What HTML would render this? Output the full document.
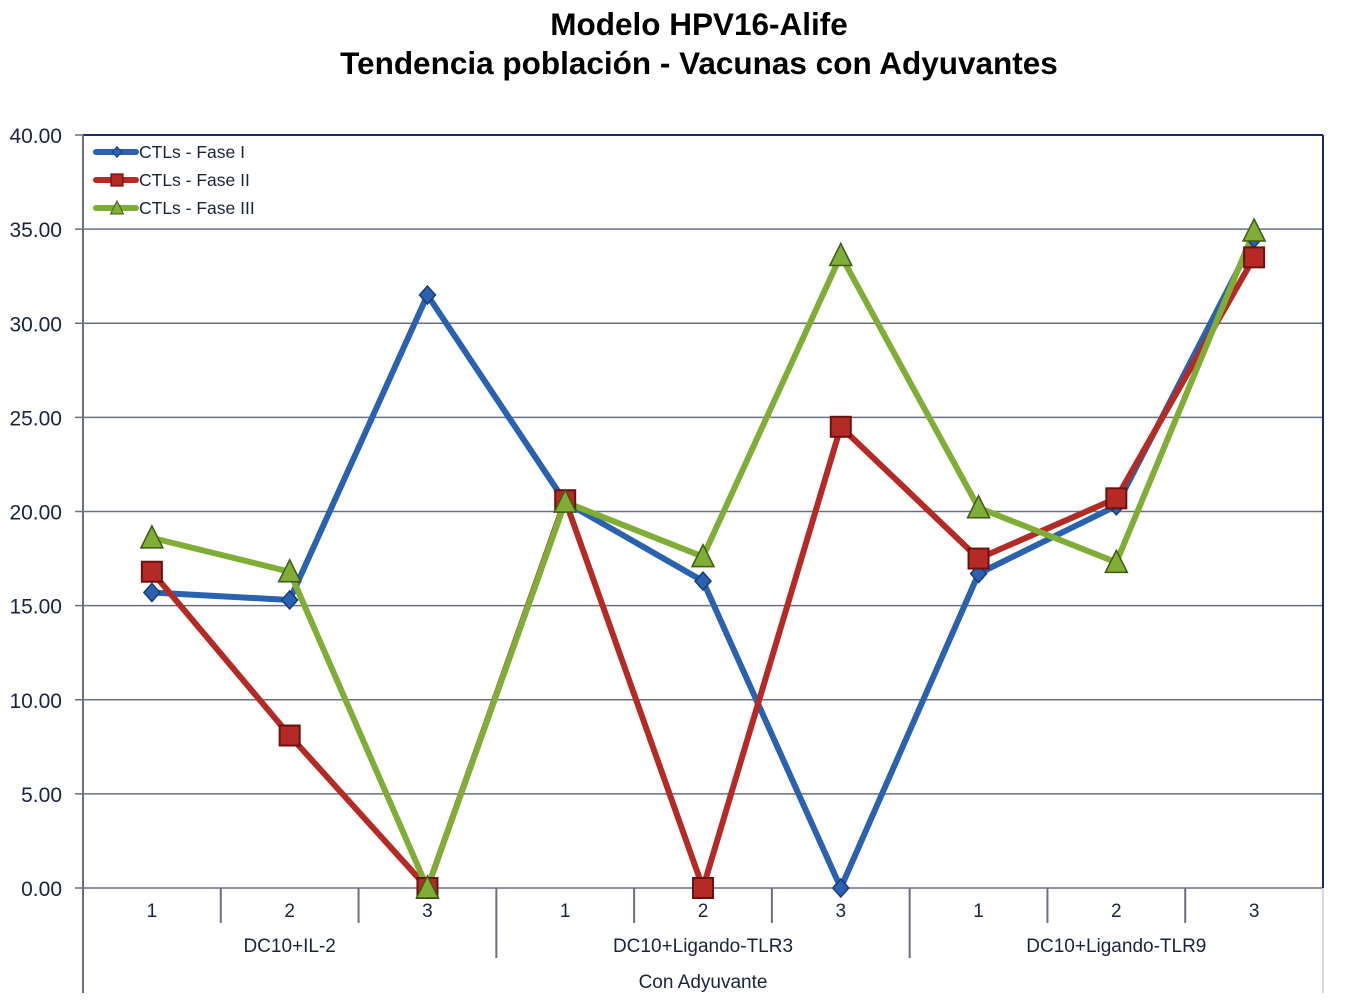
<!DOCTYPE html>
<html><head><meta charset="utf-8"><style>
body{margin:0;background:#fff;}
svg{display:block;font-family:"Liberation Sans",Arial,sans-serif;}
</style></head><body>
<svg id="chart" width="1347" height="1007">
<text x="699" y="35" text-anchor="middle" font-size="31.5" font-weight="bold" fill="#000">Modelo HPV16-Alife</text>
<text x="699" y="74" text-anchor="middle" font-size="31.5" font-weight="bold" fill="#000">Tendencia población - Vacunas con Adyuvantes</text>
<g id="grid"></g><g id="axes"></g><g id="series"></g><g id="legend"></g>
</svg>
<script>
const categories=["1","2","3","1","2","3","1","2","3"];
const groups=["DC10+IL-2","DC10+Ligando-TLR3","DC10+Ligando-TLR9"];
const yTicks=[0,5,10,15,20,25,30,35,40];
const fase1=[15.7,15.3,31.5,20.5,16.3,0,16.7,20.3,34.5];
const fase2=[16.8,8.1,0,20.6,0,24.5,17.5,20.7,33.5];
const fase3=[18.6,16.8,0,20.5,17.6,33.6,20.2,17.3,34.9];
const seriesNames=["CTLs - Fase I","CTLs - Fase II","CTLs - Fase III"];

const NS="http://www.w3.org/2000/svg";
const PL=83,PR=1323,PT=135,PB=888;
const yS=v=>PB-(v/40)*(PB-PT);
const step=(PR-PL)/categories.length;
const xS=i=>PL+step*(i+0.5);
function mk(tag,attrs,parent){const e=document.createElementNS(NS,tag);for(const k in attrs)e.setAttribute(k,attrs[k]);parent.appendChild(e);return e;}
const gridG=document.getElementById('grid'),axesG=document.getElementById('axes'),serG=document.getElementById('series'),legG=document.getElementById('legend');
yTicks.forEach(t=>{
 const ln=mk('line',{x1:PL-8,x2:PR,y1:yS(t),y2:yS(t),stroke:'#6a7080','stroke-width':1.5},gridG);
 
 
 const tx=mk('text',{x:62,y:yS(t)+8,'text-anchor':'end','font-size':21,fill:'#1a2340'},axesG);
 tx.textContent=t.toFixed(2);
 
 
});
const topLine=mk('line',{x1:PL,x2:PR,y1:PT,y2:PT,stroke:'#1a2a6a','stroke-width':2},axesG);
mk('line',{x1:PR,x2:PR,y1:PT,y2:PB,stroke:'#1a2a6a','stroke-width':2},axesG);
mk('line',{x1:PL,x2:PL,y1:PT,y2:993,stroke:'#6a7080','stroke-width':2},axesG);
mk('line',{x1:PR,x2:PR,y1:PB,y2:993,stroke:'#d8d8d8','stroke-width':2},axesG);
categories.forEach((c,i)=>{
 const tx=mk('text',{x:xS(i),y:917,'text-anchor':'middle','font-size':19,fill:'#1a2340'},axesG);
 tx.textContent=c;
 
 
 if(i>0){const bx=PL+step*i;const long=i%3===0;mk('line',{x1:bx,x2:bx,y1:PB,y2:long?958:923,stroke:'#6a7080','stroke-width':2},axesG);}
});
groups.forEach((g,j)=>{
 const tx=mk('text',{x:PL+step*(3*j+1.5),y:952,'text-anchor':'middle','font-size':19,fill:'#1a2340'},axesG);
 tx.textContent=g;
 
 
});
const ot=mk('text',{x:(PL+PR)/2,y:988,'text-anchor':'middle','font-size':19,fill:'#1a2340'},axesG);
ot.textContent="Con Adyuvante";



const colors=["#2a62b0","#b52a25","#80ad35"];
const dark=["#173d78","#6b1210","#3e5a14"];
function marker(k,cx,cy,p){
 if(k===0) return mk('polygon',{points:`${cx},${cy-9} ${cx+8},${cy} ${cx},${cy+9} ${cx-8},${cy}`,fill:colors[0],stroke:dark[0],'stroke-width':1.5},p);
 if(k===1) return mk('rect',{x:cx-10,y:cy-10,width:20,height:20,fill:colors[1],stroke:dark[1],'stroke-width':2},p);
 return mk('polygon',{points:`${cx},${cy-12} ${cx+11},${cy+10} ${cx-11},${cy+10}`,fill:colors[2],stroke:dark[2],'stroke-width':1.5},p);
}
[fase1,fase2,fase3].forEach((d,k)=>{
 const pl=mk('polyline',{points:d.map((v,i)=>xS(i)+','+yS(v)).join(' '),fill:'none',stroke:colors[k],'stroke-width':6,'stroke-linejoin':'round'},serG);
 
 
});
[fase1,fase2,fase3].forEach((d,k)=>{
 d.forEach((v,i)=>{const m=marker(k,xS(i),yS(v),serG);
  
  });
});
seriesNames.forEach((n,k)=>{
 const ly=152+k*28;
 const g=mk('g',{},legG);
 
 
 mk('line',{x1:96,x2:136,y1:ly,y2:ly,stroke:colors[k],'stroke-width':6,'stroke-linecap':'round'},g);
 const m=marker(k,117,ly,g);m.setAttribute('transform',`translate(117 ${ly}) scale(0.6) translate(-117 ${-ly})`);
 const t=mk('text',{x:139,y:ly+6,'font-size':17.5,fill:'#1a2340'},g);t.textContent=n;
});
</script>
</body></html>
